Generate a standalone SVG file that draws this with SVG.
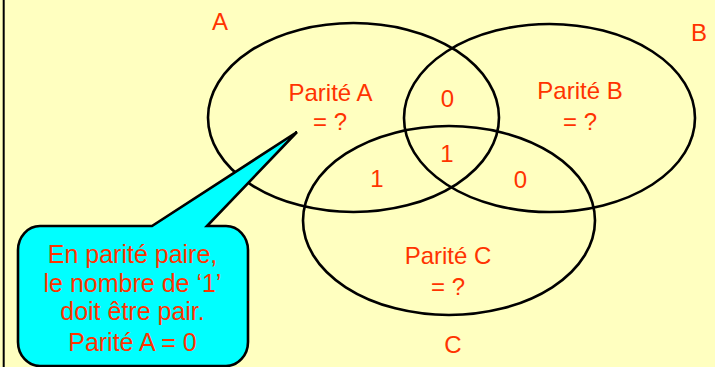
<svg xmlns="http://www.w3.org/2000/svg" width="715" height="367" viewBox="0 0 715 367">
<style>
.set{fill:none;stroke:#000;stroke-width:2.6}
.t{font-family:"Liberation Sans",Arial,sans-serif;font-size:24px;fill:#FF3300;text-anchor:middle}
.c{font-size:25px}
</style>
<rect x="0" y="0" width="715" height="367" fill="#FFFFC0"/>
<line x1="3.7" y1="0" x2="3.7" y2="367" stroke="#000" stroke-width="2"/>
<g id="setA">
<ellipse class="set" cx="353.5" cy="117.5" rx="145.5" ry="94.5"/>
<text class="t" x="220" y="30">A</text>
<text class="t" x="330.5" y="101">Parité A</text>
<text class="t" x="330" y="130">= ?</text>
</g>
<g id="setB">
<ellipse class="set" cx="549.5" cy="118" rx="145.5" ry="94"/>
<text class="t" x="699" y="41">B</text>
<text class="t" x="580" y="99">Parité B</text>
<text class="t" x="580" y="130">= ?</text>
</g>
<g id="setC">
<ellipse class="set" cx="449" cy="220.5" rx="146" ry="94.5"/>
<text class="t" x="453" y="353">C</text>
<text class="t" x="448" y="264">Parité C</text>
<text class="t" x="448" y="295">= ?</text>
</g>
<g id="regions">
<text class="t" x="447.5" y="107">0</text>
<text class="t" x="447" y="162">1</text>
<text class="t" x="377" y="187">1</text>
<text class="t" x="520.5" y="188">0</text>
</g>
<g id="connectors"></g>
<g id="callout">
<path d="M40 226 L152 226 L297 132 L207 226 L226 226 A22 24 0 0 1 248 250 L248 342 A22 24 0 0 1 226 366 L40 366 A22 24 0 0 1 18 342 L18 250 A22 24 0 0 1 40 226 Z" fill="#00FFFF" stroke="#000" stroke-width="2.6" stroke-linejoin="miter"/>
<text class="t c" x="132.5" y="263">En parité paire,</text>
<text class="t c" x="132.5" y="292">le nombre de ‘1’</text>
<text class="t c" x="132.5" y="320">doit être pair.</text>
<text class="t c" x="132.5" y="351">Parité A = 0</text>
</g>
</svg>
